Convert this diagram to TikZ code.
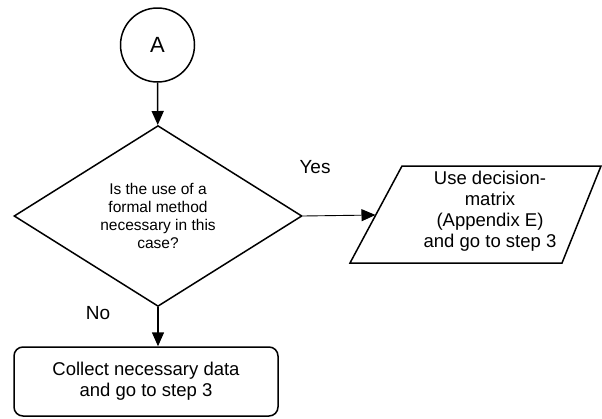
\documentclass[tikz,border=0pt]{standalone}
\usepackage{fontspec}
\setmainfont{Liberation Sans}
\usetikzlibrary{shapes,arrows,positioning,calc}
\usetikzlibrary{arrows.meta}

\begin{document}
\begin{tikzpicture}[x=1pt,y=-1pt,line width=1.5pt,
		flow/.style={-{Triangle[length=14pt,width=12pt]}},
		lbl/.style={font=\fontsize{19}{22}\selectfont},
		boxtext/.style={align=center,font=\fontsize{18.5}{21}\selectfont}]
		\useasboundingbox (0,0) rectangle (602,418);
		
		\node[circle,draw,minimum size=74pt,inner sep=0pt,font=\fontsize{22}{26}\selectfont] (A) at (157.5,45) {A};
		
		\node[diamond,draw,minimum width=288pt,minimum height=166pt,inner sep=0pt,align=center,font=\fontsize{15.5}{18}\selectfont] (formal) at (158,216) {Is the use of a\\formal method\\necessary in this\\case?};
		
		% input/output box, drawn by hand
		\draw (350,263) -- (402,166) -- (601,166) -- (562,263) -- cycle;
		\coordinate (matrixin) at (375.5,215);
		\node[boxtext] (matrix) at (490,211.5) {Use decision-\\matrix\\(Appendix E)\\and go to step 3};
		
		\node[rectangle,draw,boxtext,rounded corners=9pt,minimum width=264pt,minimum height=69pt] (collect) at (146,381.5) {Collect necessary data\\and go to step 3};
		
		\node[lbl] (yes) at (315,167) {Yes};
		\node[lbl] (no) at (98,313) {No};
		
		\draw[flow] (A) -- (formal);
		\draw[flow,line width=.9pt] (formal.east) -- (matrixin);
		\draw[flow] (formal.south) -- (formal.south |- collect.north);
\end{tikzpicture}
\end{document}
